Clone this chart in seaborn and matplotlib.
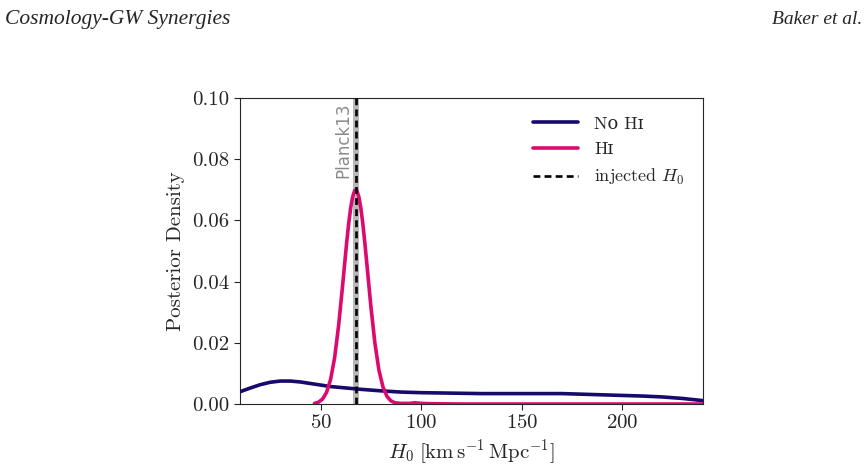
import numpy as np
import pandas as pd
import seaborn as sns
import matplotlib.pyplot as plt

# posterior without HI information
h0_nohi = [10, 15, 20, 25, 30, 35, 40, 45, 50, 55, 60, 65, 70, 80, 90, 100, 110, 120,
           130, 140, 150, 160, 170, 180, 190, 200, 210, 220, 230, 240]
p_nohi = [0.0040, 0.0052, 0.0063, 0.0071, 0.0075, 0.0075, 0.0072, 0.0067, 0.0062, 0.0057,
          0.0054, 0.0051, 0.0048, 0.0043, 0.0039, 0.0037, 0.0036, 0.0035, 0.0034, 0.0034,
          0.0034, 0.0034, 0.0034, 0.0032, 0.0030, 0.0028, 0.0026, 0.0023, 0.0018, 0.0011]

# posterior with HI information
h0_hi = [47, 49, 51, 53, 55, 57, 59, 61, 62, 63, 64, 65, 66, 67, 68, 69, 70, 71, 72, 73,
         75, 77, 79, 81, 83, 85, 87, 90, 94, 97, 100, 105, 120, 160, 200, 240]
p_hi = [0.0002, 0.0006, 0.0016, 0.0038, 0.0080, 0.0151, 0.0257, 0.0389, 0.0459, 0.0528,
        0.0590, 0.0642, 0.0678, 0.0698, 0.0698, 0.0678, 0.0642, 0.0590, 0.0528, 0.0459,
        0.0320, 0.0200, 0.0111, 0.0056, 0.0025, 0.0010, 0.0004, 0.0002, 0.0002, 0.0004,
        0.0002, 0.0001, 0.0, 0.0, 0.0, 0.0]

h0_planck = 67.74
h0_injected = 67.74

sns.set_style("ticks")
plt.rcParams['font.family'] = ['cmr10', 'DejaVu Serif']
plt.rcParams['mathtext.fontset'] = 'cm'
plt.rcParams['axes.formatter.use_mathtext'] = True
plt.rcParams['axes.unicode_minus'] = False

fig = plt.figure(figsize=(8.67, 4.72), dpi=100)
ax = fig.add_axes([240 / 867, 1 - 404 / 472, 463 / 867, 306 / 472])

df_nohi = pd.DataFrame({'H0': h0_nohi, 'p': p_nohi})
df_hi = pd.DataFrame({'H0': h0_hi, 'p': p_hi})

ax.axvspan(h0_planck - 1.5, h0_planck + 1.5, color='#b8b8b8', lw=0, zorder=1)
ax.text(h0_planck - 2.0, 0.0985, 'Planck13', rotation=90, ha='right', va='top',
        color='#8a8a8a', fontsize=12, family='DejaVu Sans')

sns.lineplot(data=df_nohi, x='H0', y='p', ax=ax, color='#160a6c', lw=2.6, label='N\u1d0f H\u026a', zorder=3)
sns.lineplot(data=df_hi, x='H0', y='p', ax=ax, color='#dc0a6e', lw=2.6, label='H\u026a', zorder=4)
ax.axvline(h0_injected, color='black', ls=(0, (2.6, 1.6)), lw=1.9, label=r'injected $H_0$', zorder=5)

ax.set_xlim(10, 240)
ax.set_ylim(0, 0.10)
ax.set_xticks([50, 100, 150, 200])
ax.set_yticks([0, 0.02, 0.04, 0.06, 0.08, 0.10])
ax.set_yticklabels(['0.00', '0.02', '0.04', '0.06', '0.08', '0.10'])
ax.tick_params(labelsize=15, direction='out', length=4, width=0.8)
for s in ax.spines.values():
    s.set_linewidth(0.8)

ax.set_xlabel(r'$H_0\;[\mathrm{km\,s^{-1}\,Mpc^{-1}}]$', fontsize=15, labelpad=4)
ax.set_ylabel('Posterior Density', fontsize=15, labelpad=5)

leg = ax.legend(loc='upper right', frameon=False, fontsize=13, handlelength=2.5,
                borderaxespad=0.6, labelspacing=0.55, handletextpad=0.9)

fig.text(0.006, 0.958, 'Cosmology-GW Synergies', family='Liberation Serif', style='italic',
         fontsize=15.5, ha='left', va='center')
fig.text(0.994, 0.958, 'Baker et al.', family='Liberation Serif', style='italic',
         fontsize=14, ha='right', va='center')

fig.savefig('out.png', dpi=100)
